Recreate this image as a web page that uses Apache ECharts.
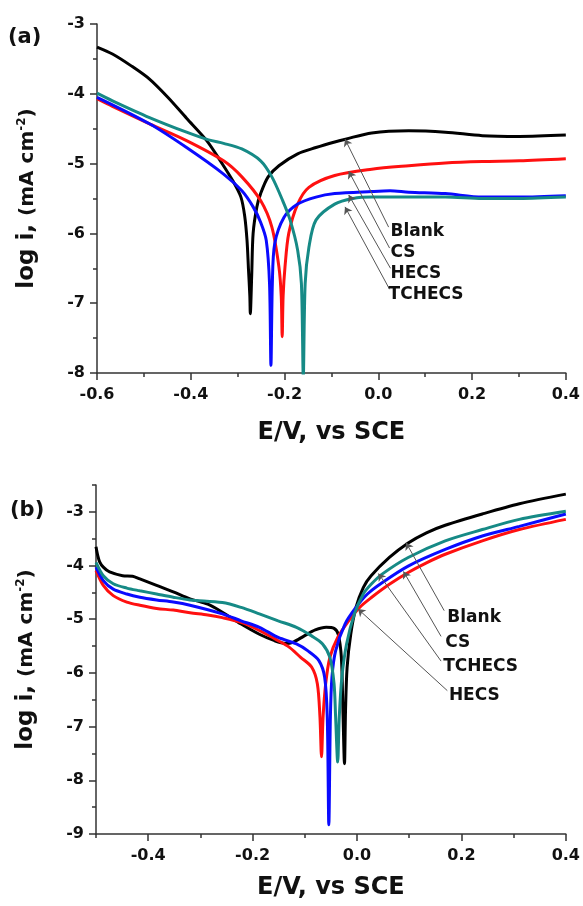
<!DOCTYPE html>
<html>
<head>
<meta charset="utf-8">
<title>Polarization curves</title>
<script src="https://cdn.jsdelivr.net/npm/echarts@6.0.0/dist/echarts.min.js"></script>
<style>
  html, body { margin: 0; padding: 0; background: #fff; }
  #chart { width: 583px; height: 906px; }
</style>
</head>
<body>
<div id="chart"></div>
<script>
const seriesNames = ['Blank', 'CS', 'HECS', 'TCHECS']
const colors = ['#000000', '#ff1010', '#0a0aff', '#168a86']

// panel (a): [E / V, log i]
const blankA = [[-0.6, -3.33], [-0.567, -3.43], [-0.527, -3.6], [-0.488, -3.79], [-0.449, -4.05], [-0.409, -4.35],
  [-0.366, -4.67], [-0.335, -4.98], [-0.31, -5.25], [-0.293, -5.48], [-0.285, -5.75], [-0.28, -6.1], [-0.277, -6.5],
  [-0.274, -6.9], [-0.273, -7.15], [-0.27, -6.6], [-0.267, -6.0], [-0.259, -5.62], [-0.251, -5.43], [-0.235, -5.19],
  [-0.212, -5.03], [-0.172, -4.86], [-0.133, -4.77], [-0.093, -4.69], [-0.07, -4.65], [-0.014, -4.56], [0.065, -4.53],
  [0.143, -4.55], [0.222, -4.6], [0.301, -4.61], [0.4, -4.59]]
const csA = [[-0.6, -4.07], [-0.567, -4.18], [-0.488, -4.43], [-0.409, -4.67], [-0.33, -4.96], [-0.291, -5.19],
  [-0.251, -5.53], [-0.227, -5.91], [-0.212, -6.48], [-0.207, -6.9], [-0.205, -7.48], [-0.203, -6.9], [-0.199, -6.48],
  [-0.191, -6.0], [-0.172, -5.58], [-0.148, -5.34], [-0.093, -5.17], [-0.014, -5.08], [0.065, -5.03], [0.143, -4.99],
  [0.222, -4.97], [0.301, -4.96], [0.4, -4.93]]
const hecsA = [[-0.6, -4.05], [-0.488, -4.43], [-0.409, -4.77], [-0.33, -5.15], [-0.291, -5.39], [-0.267, -5.62],
  [-0.251, -5.84], [-0.239, -6.1], [-0.232, -6.72], [-0.229, -7.89], [-0.226, -6.72], [-0.221, -6.15], [-0.201, -5.77],
  [-0.172, -5.58], [-0.133, -5.48], [-0.093, -5.43], [-0.014, -5.4], [0.025, -5.39], [0.065, -5.41], [0.143, -5.43],
  [0.222, -5.48], [0.301, -5.48], [0.4, -5.46]]
const tchecsA = [[-0.6, -3.99], [-0.567, -4.1], [-0.488, -4.34], [-0.409, -4.55], [-0.362, -4.66], [-0.33, -4.71],
  [-0.291, -4.79], [-0.251, -4.96], [-0.227, -5.19], [-0.204, -5.53], [-0.188, -5.81], [-0.172, -6.24], [-0.164, -6.72],
  [-0.16, -8.05], [-0.156, -6.72], [-0.148, -6.2], [-0.133, -5.81], [-0.093, -5.58], [-0.054, -5.5], [-0.014, -5.48],
  [0.065, -5.48], [0.143, -5.48], [0.222, -5.5], [0.301, -5.5], [0.4, -5.48]]

// panel (b)
const blankB = [[-0.5, -3.65], [-0.497, -3.8], [-0.493, -3.93], [-0.486, -4.03], [-0.474, -4.12], [-0.449, -4.19],
  [-0.43, -4.2], [-0.416, -4.25], [-0.384, -4.37], [-0.352, -4.49], [-0.32, -4.62], [-0.286, -4.72], [-0.258, -4.87],
  [-0.222, -5.09], [-0.187, -5.28], [-0.158, -5.4], [-0.137, -5.45], [-0.123, -5.43], [-0.101, -5.31], [-0.08, -5.2],
  [-0.059, -5.15], [-0.044, -5.17], [-0.036, -5.28], [-0.03, -5.71], [-0.027, -6.7], [-0.024, -7.69], [-0.022, -6.7],
  [-0.019, -5.9], [-0.012, -5.28], [-0.002, -4.78], [0.012, -4.41], [0.027, -4.19], [0.062, -3.85], [0.098, -3.58],
  [0.133, -3.39], [0.169, -3.25], [0.24, -3.04], [0.311, -2.85], [0.4, -2.67]]
const csB = [[-0.5, -4.09], [-0.486, -4.37], [-0.467, -4.56], [-0.441, -4.68], [-0.416, -4.74], [-0.384, -4.8],
  [-0.352, -4.83], [-0.32, -4.88], [-0.286, -4.92], [-0.258, -4.97], [-0.222, -5.06], [-0.187, -5.21], [-0.151, -5.4],
  [-0.13, -5.52], [-0.108, -5.71], [-0.087, -5.89], [-0.076, -6.2], [-0.071, -6.82], [-0.068, -7.56], [-0.065, -6.82],
  [-0.06, -6.2], [-0.052, -5.71], [-0.037, -5.34], [-0.016, -5.03], [0.005, -4.78], [0.027, -4.6], [0.062, -4.35],
  [0.098, -4.13], [0.133, -3.95], [0.169, -3.79], [0.24, -3.54], [0.311, -3.33], [0.4, -3.14]]
const hecsB = [[-0.5, -4.03], [-0.486, -4.28], [-0.467, -4.44], [-0.441, -4.53], [-0.416, -4.59], [-0.384, -4.64],
  [-0.352, -4.68], [-0.32, -4.74], [-0.258, -4.9], [-0.222, -5.03], [-0.187, -5.15], [-0.151, -5.34], [-0.116, -5.46],
  [-0.094, -5.59], [-0.073, -5.77], [-0.062, -6.08], [-0.057, -6.82], [-0.054, -8.83], [-0.051, -6.82], [-0.048, -6.08],
  [-0.041, -5.59], [-0.023, -5.09], [-0.002, -4.78], [0.02, -4.53], [0.048, -4.32], [0.098, -4.01], [0.169, -3.7],
  [0.24, -3.45], [0.311, -3.27], [0.4, -3.04]]
const tchecsB = [[-0.5, -3.94], [-0.486, -4.19], [-0.467, -4.34], [-0.441, -4.42], [-0.416, -4.47], [-0.384, -4.53],
  [-0.352, -4.59], [-0.32, -4.64], [-0.258, -4.69], [-0.222, -4.78], [-0.187, -4.9], [-0.151, -5.03], [-0.116, -5.15],
  [-0.087, -5.31], [-0.066, -5.46], [-0.052, -5.71], [-0.044, -6.2], [-0.041, -6.82], [-0.037, -7.66], [-0.034, -6.82],
  [-0.029, -6.08], [-0.02, -5.46], [-0.005, -4.9], [0.012, -4.53], [0.027, -4.35], [0.048, -4.16], [0.098, -3.85],
  [0.169, -3.54], [0.24, -3.33], [0.311, -3.14], [0.4, -2.99]]

// ticks
const xTicksA = [-0.6, -0.4, -0.2, 0, 0.2, 0.4]
const xMinorA = [-0.5, -0.3, -0.1, 0.1, 0.3]
const yTicksA = [-8, -7, -6, -5, -4, -3]
const yMinorA = [-7.5, -6.5, -5.5, -4.5, -3.5]
const xTicksB = [-0.4, -0.2, 0, 0.2, 0.4]
const xMinorB = [-0.5, -0.3, -0.1, 0.1, 0.3]
const yTicksB = [-9, -8, -7, -6, -5, -4, -3]
const yMinorB = [-8.5, -7.5, -6.5, -5.5, -4.5, -3.5, -2.5]

// annotations: label text, label anchor, arrow [from, to]
const labelsA = ['Blank', 'CS', 'HECS', 'TCHECS']
const labelPosA = [[0.026, -5.98], [0.026, -6.28], [0.026, -6.58], [0.022, -6.87]]
const arrowsA = [
  [[0.022, -5.91], [-0.071, -4.65]],
  [[0.024, -6.21], [-0.063, -5.11]],
  [[0.026, -6.5], [-0.063, -5.45]],
  [[0.024, -6.8], [-0.071, -5.62]],
]
const labelsB = ['Blank', 'CS', 'TCHECS', 'HECS']
const labelPosB = [[0.173, -4.97], [0.169, -5.43], [0.165, -5.88], [0.176, -6.42]]
const arrowsB = [
  [[0.167, -4.84], [0.094, -3.575]],
  [[0.161, -5.32], [0.089, -4.11]],
  [[0.161, -5.78], [0.041, -4.15]],
  [[0.173, -6.33], [0.002, -4.81]],
]

const font = 'DejaVu Sans'
const ink = '#111'
const axisColor = '#333'

function xAxes(gridIndex, min, max, majors, minors, nameGap) {
  return [
    {
      type: 'value', gridIndex, min, max, position: 'bottom',
      name: 'E/V, vs SCE', nameLocation: 'middle', nameGap,
      nameTextStyle: { fontFamily: font, fontWeight: 'bold', fontSize: 24, color: ink },
      axisLine: { onZero: false, lineStyle: { color: axisColor, width: 1.5 } },
      axisTick: { customValues: majors, length: 7, lineStyle: { color: axisColor, width: 1.5 } },
      axisLabel: { customValues: majors, formatter: (v) => v.toFixed(1), margin: 14,
        fontFamily: font, fontWeight: 'bold', fontSize: 16, color: ink },
      splitLine: { show: false },
    },
    {
      type: 'value', gridIndex, min, max, position: 'bottom',
      axisLine: { show: false, onZero: false },
      axisTick: { customValues: minors, length: 4, lineStyle: { color: axisColor, width: 1.5 } },
      axisLabel: { show: false },
      splitLine: { show: false },
    },
  ]
}

function yAxes(gridIndex, min, max, majors, minors) {
  return [
    {
      type: 'value', gridIndex, min, max, position: 'left',
      name: '{a|log i, }{b|(mA cm}{s|-2}{b|)}', nameLocation: 'middle', nameGap: 58, nameRotate: 90,
      nameTextStyle: {
        color: ink,
        rich: {
          a: { fontFamily: font, fontWeight: 'bold', fontSize: 23, color: ink },
          b: { fontFamily: font, fontWeight: 'bold', fontSize: 20, color: ink },
          s: { fontFamily: font, fontWeight: 'bold', fontSize: 12, color: ink, verticalAlign: 'top' },
        },
      },
      axisLine: { onZero: false, lineStyle: { color: axisColor, width: 1.5 } },
      axisTick: { customValues: majors, length: 7, lineStyle: { color: axisColor, width: 1.5 } },
      axisLabel: { customValues: majors, formatter: (v) => String(v), margin: 12,
        fontFamily: font, fontWeight: 'bold', fontSize: 16, color: ink },
      splitLine: { show: false },
    },
    {
      type: 'value', gridIndex, min, max, position: 'left',
      axisLine: { show: false, onZero: false },
      axisTick: { customValues: minors, length: 4, lineStyle: { color: axisColor, width: 1.5 } },
      axisLabel: { show: false },
      splitLine: { show: false },
    },
  ]
}

function curve(name, data, color, axisIndex) {
  return {
    name, type: 'line', data, xAxisIndex: axisIndex, yAxisIndex: axisIndex,
    showSymbol: false, smooth: 0.3, clip: true, color,
    lineStyle: { width: 3, color }, silent: true,
  }
}

function annotations(axisIndex, labels, labelPos, arrows) {
  return {
    type: 'line', data: [], xAxisIndex: axisIndex, yAxisIndex: axisIndex, silent: true, z: 5,
    markLine: {
      silent: true, animation: false,
      symbol: ['none', 'arrow'], symbolSize: 7,
      label: { show: false },
      lineStyle: { color: '#555', width: 1, type: 'solid' },
      data: arrows.map((a) => [{ coord: a[0] }, { coord: a[1] }]),
    },
    markPoint: {
      silent: true, animation: false, symbol: 'circle', symbolSize: 0,
      label: { show: true, position: 'right', distance: 0, formatter: (p) => p.name,
        fontFamily: font, fontWeight: 'bold', fontSize: 17, color: ink },
      data: labels.map((t, i) => ({ name: t, coord: labelPos[i] })),
    },
  }
}

const chart = echarts.init(document.getElementById('chart'), null, { renderer: 'canvas' })

const seriesA = [blankA, csA, hecsA, tchecsA]
const seriesB = [blankB, csB, hecsB, tchecsB]

chart.setOption({
  animation: false,
  backgroundColor: '#fff',
  grid: [
    { left: 97, top: 24, width: 471, height: 349 },
    { left: 96, top: 485, width: 472, height: 349 },
  ],
  xAxis: [...xAxes(0, -0.6, 0.4, xTicksA, xMinorA, 48), ...xAxes(1, -0.5, 0.4, xTicksB, xMinorB, 42)],
  yAxis: [...yAxes(0, -8, -3, yTicksA, yMinorA), ...yAxes(1, -9, -2.5, yTicksB, yMinorB)],
  series: [
    ...seriesA.map((d, i) => curve(seriesNames[i], d, colors[i], 0)),
    ...seriesB.map((d, i) => curve(seriesNames[i], d, colors[i], 2)),
    annotations(0, labelsA, labelPosA, arrowsA),
    annotations(2, labelsB, labelPosB, arrowsB),
  ],
  graphic: [
    { type: 'text', left: 8, top: 27, style: { text: '(a)', font: 'bold 21px "DejaVu Sans"', fill: ink } },
    { type: 'text', left: 10, top: 500, style: { text: '(b)', font: 'bold 21px "DejaVu Sans"', fill: ink } },
  ],
})

window.addEventListener('resize', () => chart.resize())
</script>
</body>
</html>
